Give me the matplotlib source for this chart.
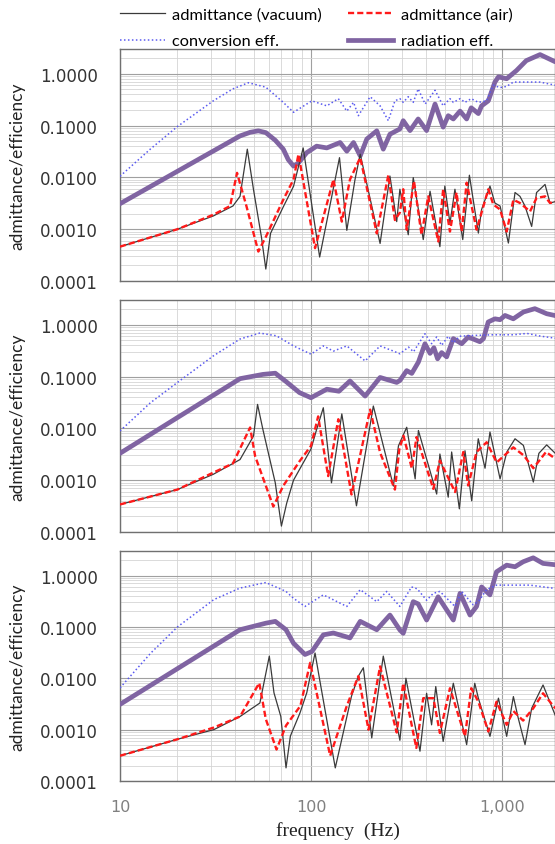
import matplotlib
matplotlib.use('Agg')
import matplotlib.pyplot as plt
import numpy as np
from matplotlib import ticker
from matplotlib.lines import Line2D

# ~~~~~~~~~~~~~~~~~~
# DATA
# ~~~~~~~~~~~~~~~~~~

# panel 1
p1_vac_f = [10, 20, 30.8, 39, 42.5, 46.4, 50, 55, 58, 61.4, 71.6, 81, 91, 111, 141, 154, 170, 181, 230, 259, 281, 292, 323,
            343, 387, 420, 473, 502, 534, 567, 623, 675, 752, 782, 865, 918, 977, 1080, 1170, 1242, 1319, 1430, 1517, 1680,
            1784, 1900]
p1_vac_v = [0.00046, 0.001, 0.0018, 0.0028, 0.0043, 0.035, 0.0058, 0.00071, 0.00017, 0.00083, 0.0027, 0.0067, 0.037, 0.00029,
            0.024, 0.00095, 0.0091, 0.028, 0.00053, 0.0106, 0.0014, 0.0059, 0.00078, 0.0099, 0.00063, 0.0054, 0.00046, 0.0068,
            0.0013, 0.0059, 0.00063, 0.011, 0.00084, 0.0024, 0.0068, 0.0032, 0.0028, 0.00054, 0.0051, 0.0043, 0.0028, 0.00113,
            0.0051, 0.0073, 0.0032, 0.0034]
p1_air_f = [10, 20, 30.8, 37.7, 41, 45.9, 53, 58, 71.6, 81, 86, 105, 131, 145, 160, 181, 221, 254, 275, 292, 304, 317, 346,
            379, 411, 464, 492, 534, 578, 615, 653, 736, 782, 848, 900, 977, 1058, 1147, 1242, 1402, 1517, 1680, 1784, 1900]
p1_air_v = [0.00046, 0.001, 0.0019, 0.0028, 0.0122, 0.0028, 0.00037, 0.00071, 0.0037, 0.0091, 0.028, 0.00043, 0.0091, 0.0014,
            0.0091, 0.024, 0.00083, 0.011, 0.0015, 0.0021, 0.0059, 0.00098, 0.0085, 0.00078, 0.0043, 0.00058, 0.0059, 0.0009,
            0.0051, 0.0009, 0.0079, 0.00098, 0.0021, 0.0059, 0.003, 0.0024, 0.0009, 0.0037, 0.0032, 0.0022, 0.004, 0.0043,
            0.0032, 0.0034]
p1_conv_f = [10, 14.4, 20, 30.8, 39, 47, 58, 71.6, 81, 101, 121, 139, 154, 167, 177, 204, 230, 254, 275, 292, 304, 323, 343,
             364, 396, 446, 492, 534, 556, 603, 640, 690, 752, 830, 900, 977, 1058, 1147, 1582, 1900]
p1_conv_v = [0.0105, 0.035, 0.096, 0.30, 0.51, 0.67, 0.55, 0.28, 0.18, 0.30, 0.24, 0.33, 0.19, 0.28, 0.155, 0.36, 0.24, 0.124,
             0.30, 0.33, 0.28, 0.36, 0.28, 0.51, 0.26, 0.48, 0.24, 0.33, 0.28, 0.33, 0.28, 0.33, 0.28, 0.30, 0.6, 0.54, 0.57,
             0.69, 0.69, 0.6]
p1_rad_f = [10, 42.5, 48, 53, 58, 65, 71.6, 76, 81, 86, 95, 107, 121, 142, 154, 167, 181, 196, 221, 239, 259, 292, 304, 330,
            364, 403, 446, 492, 523, 556, 603, 653, 690, 752, 782, 848, 918, 958, 1058, 1190, 1340, 1582, 1900]
p1_rad_v = [0.0031, 0.063, 0.074, 0.079, 0.073, 0.052, 0.035, 0.022, 0.0165, 0.019, 0.030, 0.040, 0.037, 0.047, 0.032, 0.047,
            0.026, 0.055, 0.079, 0.035, 0.068, 0.086, 0.124, 0.08, 0.134, 0.08, 0.26, 0.093, 0.155, 0.134, 0.19, 0.134, 0.22,
            0.17, 0.24, 0.30, 0.69, 0.87, 0.80, 1.15, 1.79, 2.34, 1.70]

# panel 2
p2_vac_f = [10, 20, 30.8, 42.5, 50, 52.5, 56, 65, 70, 74.6, 81, 100, 107, 116, 128, 145, 173, 212, 270, 287, 317, 351, 365,
            455, 473, 523, 545, 598, 640, 694, 751, 815, 865, 977, 1060, 1170, 1294, 1459, 1560, 1714, 1900]
p2_vac_v = [0.00034, 0.00066, 0.0013, 0.0025, 0.0071, 0.029, 0.0095, 0.00089, 0.00013, 0.00036, 0.001, 0.004, 0.0095, 0.025,
            0.00089, 0.019, 0.00032, 0.027, 0.00077, 0.0046, 0.0105, 0.00106, 0.0091, 0.00054, 0.0032, 0.00047, 0.0035,
            0.00028, 0.0037, 0.0004, 0.0063, 0.0017, 0.0085, 0.00106, 0.0035, 0.0063, 0.0047, 0.00092, 0.0033, 0.0048, 0.0033]
p2_air_f = [10, 20, 30.8, 39, 48, 51, 63.5, 71.6, 87, 100, 109, 123, 139, 163, 204, 230, 275, 290, 305, 337, 357, 437, 473,
            568, 627, 665, 736, 831, 938, 1146, 1300, 1459, 1700, 1900]
p2_air_v = [0.00034, 0.00066, 0.0014, 0.0021, 0.0104, 0.0029, 0.00031, 0.00078, 0.0023, 0.0046, 0.017, 0.0012, 0.015, 0.00053,
            0.023, 0.0034, 0.00066, 0.004, 0.0072, 0.0017, 0.0068, 0.00068, 0.0024, 0.00059, 0.0035, 0.00079, 0.0035, 0.0054,
            0.0022, 0.0043, 0.003, 0.0017, 0.0035, 0.0026]
p2_conv_f = [10, 14.4, 20, 30.8, 42.5, 54, 66, 81, 100, 116, 131, 154, 192, 230, 270, 292, 324, 344, 395, 428, 455, 483, 523,
             557, 600, 700, 900, 1150, 1350, 1600, 1900]
p2_conv_v = [0.0089, 0.031, 0.077, 0.25, 0.53, 0.69, 0.61, 0.39, 0.27, 0.39, 0.31, 0.39, 0.20, 0.39, 0.31, 0.275, 0.37, 0.3,
             0.67, 0.43, 0.58, 0.4, 0.6, 0.45, 0.6, 0.62, 0.64, 0.64, 0.68, 0.6, 0.55]
p2_rad_f = [10, 42.5, 56, 65, 74, 87, 100, 121, 140, 160, 192, 230, 281, 292, 317, 337, 365, 395, 420, 440, 460, 483, 513,
            556, 615, 665, 766, 800, 847, 918, 977, 1037, 1146, 1294, 1486, 1714, 1900]
p2_rad_v = [0.0033, 0.091, 0.11, 0.116, 0.08, 0.049, 0.039, 0.057, 0.052, 0.082, 0.042, 0.096, 0.077, 0.084, 0.13, 0.115,
            0.19, 0.43, 0.28, 0.36, 0.22, 0.29, 0.24, 0.54, 0.43, 0.58, 0.47, 0.54, 1.13, 1.3, 1.25, 1.51, 1.3, 1.76, 2.04,
            1.63, 1.5]

# panel 3
p3_vac_f = [10, 20, 31, 42.5, 54, 60.5, 64, 69.5, 74, 78, 87.5, 95, 105, 111, 134, 163, 177, 188, 208, 239, 292, 314, 372,
            403, 428, 450, 492, 556, 653, 720, 752, 865, 958, 1058, 1147, 1215, 1320, 1430, 1640, 1900]
p3_vac_v = [0.00031, 0.00065, 0.001, 0.0018, 0.0033, 0.027, 0.0052, 0.0018, 0.00018, 0.00075, 0.0021, 0.0052, 0.031, 0.0094,
            0.00018, 0.0045, 0.011, 0.016, 0.00069, 0.027, 0.00062, 0.01, 0.00038, 0.0051, 0.00124, 0.0069, 0.00059, 0.008,
            0.00051, 0.008, 0.0041, 0.00074, 0.0041, 0.00074, 0.0044, 0.0017, 0.00051, 0.0026, 0.0074, 0.0019]
p3_air_f = [10, 20, 31, 42.5, 53.6, 58, 66, 74, 88, 99, 126, 154, 177, 200, 230, 281, 304, 356, 387, 437, 473, 534, 640, 690,
            752, 848, 936, 1058, 1147, 1290, 1457, 1640, 1900]
p3_air_v = [0.00031, 0.00065, 0.0011, 0.0018, 0.0081, 0.0016, 0.00041, 0.0012, 0.0029, 0.02, 0.00031, 0.0029, 0.011, 0.001,
            0.017, 0.00088, 0.008, 0.00044, 0.0041, 0.0041, 0.00086, 0.0064, 0.00074, 0.0064, 0.0035, 0.00092, 0.0035,
            0.00124, 0.0023, 0.0015, 0.0026, 0.0051, 0.0026]
p3_conv_f = [10, 14.5, 20, 31, 42.5, 58, 74, 81, 93, 116, 154, 181, 221, 249, 292, 336, 360, 403, 437, 473, 567, 615, 706,
             752, 830, 936, 1400, 1900]
p3_conv_v = [0.0065, 0.031, 0.10, 0.34, 0.57, 0.73, 0.49, 0.36, 0.25, 0.42, 0.25, 0.53, 0.31, 0.49, 0.25, 0.6, 0.55, 0.33,
             0.45, 0.49, 0.25, 0.49, 0.27, 0.31, 0.53, 0.65, 0.65, 0.56]
p3_rad_f = [10, 42.5, 58, 65, 74, 81, 93, 101, 116, 131, 160, 181, 221, 259, 292, 304, 343, 364, 403, 463, 556, 603, 680,
            736, 782, 865, 936, 1058, 1170, 1290, 1457, 1640, 1900]
p3_rad_v = [0.0031, 0.088, 0.118, 0.128, 0.088, 0.048, 0.029, 0.033, 0.07, 0.076, 0.061, 0.128, 0.088, 0.17, 0.087, 0.075,
            0.31, 0.28, 0.136, 0.385, 0.136, 0.45, 0.17, 0.25, 0.6, 0.42, 1.18, 1.59, 1.48, 1.85, 2.21, 1.72, 1.62]

panels = [
    (p1_vac_f, p1_vac_v, p1_air_f, p1_air_v, p1_conv_f, p1_conv_v, p1_rad_f, p1_rad_v),
    (p2_vac_f, p2_vac_v, p2_air_f, p2_air_v, p2_conv_f, p2_conv_v, p2_rad_f, p2_rad_v),
    (p3_vac_f, p3_vac_v, p3_air_f, p3_air_v, p3_conv_f, p3_conv_v, p3_rad_f, p3_rad_v),
]

yticks = [0.0001, 0.001, 0.01, 0.1, 1.0]
xticks = [10, 100, 1000]
xticklabels = ['10', '100', '1,000']
labels = ['admittance (vacuum)', 'admittance (air)', 'conversion eff.', 'radiation eff.']

# ~~~~~~~~~~
# PLOTTING
# ~~~~~~~~~~

W, H = 555, 845
fig = plt.figure(figsize=(W / 100, H / 100), dpi=100)

boxes = [(50, 282), (301, 533), (552, 782)]  # top / bottom in pixels
left = 120

c_vac = '#3a3a3a'
c_air = '#ff1a1a'
c_conv = '#5a5af0'
c_rad = '#8064a2'
air_dash = (0, (2.6, 1.3))
conv_dot = (0, (1, 1.6))

axes = []
for k, (top, bot) in enumerate(boxes):
    ax = fig.add_axes([left / W, 1 - bot / H, 1 - left / W, (bot - top) / H])
    vf, vv, af, av, cf, cv, rf, rv = panels[k]
    ax.plot(rf, rv, color=c_rad, lw=3.4, solid_capstyle='round', solid_joinstyle='round', zorder=3)
    ax.plot(cf, cv, color=c_conv, lw=1.1, linestyle=conv_dot, zorder=3)
    ax.plot(vf, vv, color=c_vac, lw=0.9, zorder=4)
    ax.plot(af, av, color=c_air, lw=1.7, linestyle=air_dash, zorder=5)

    ax.set_xscale('log')
    ax.set_yscale('log')
    ax.set_xlim(10, 10 ** (1 + (W - left) / 191.0))
    ax.set_ylim(0.0001, 3.0)

    ax.set_yticks(yticks)
    ax.yaxis.set_major_formatter(ticker.FuncFormatter(lambda v, p: '%.4f' % v))
    ax.yaxis.set_minor_locator(ticker.LogLocator(base=10, subs=np.arange(2, 10), numticks=20))
    ax.yaxis.set_minor_formatter(ticker.NullFormatter())
    ax.xaxis.set_minor_locator(ticker.LogLocator(base=10, subs=np.arange(2, 10), numticks=20))
    ax.xaxis.set_minor_formatter(ticker.NullFormatter())
    ax.set_xticks(xticks)
    if k == 2:
        ax.set_xticklabels(xticklabels)
    else:
        ax.set_xticklabels([])

    ax.tick_params(which='both', length=0)
    ax.tick_params(axis='y', pad=16, labelsize=12, labelcolor='#333333')
    ax.tick_params(axis='x', pad=13, labelsize=11.5, labelcolor='#808080')

    ax.grid(which='major', color='#a0a0a0', lw=0.8)
    ax.grid(which='minor', color='#d4d4d4', lw=0.6)
    ax.set_axisbelow(True)
    for s in ax.spines.values():
        s.set_color('#707070')
        s.set_linewidth(1.0)

    ax.set_ylabel('admittance/efficiency', family='Lato', fontsize=12.5, color='#222222')
    ax.yaxis.set_label_coords(-(left - 25) / (W - left), 0.5)
    axes.append(ax)

axes[2].set_xlabel('frequency  (Hz)', family='Liberation Serif', fontsize=14, color='#222222', labelpad=5)

handles = [
    Line2D([], [], color=c_vac, lw=0.9),
    Line2D([], [], color=c_conv, lw=1.1, linestyle=conv_dot),
    Line2D([], [], color=c_air, lw=1.7, linestyle=air_dash),
    Line2D([], [], color=c_rad, lw=3.4),
]
hl = [labels[0], labels[2], labels[1], labels[3]]
fig.legend(handles, hl, loc='upper left', bbox_to_anchor=(120 / W, 1 - 8 / H), ncol=2, frameon=False,
           prop={'family': 'Lato', 'size': 11.8}, handlelength=2.75, handletextpad=0.45, columnspacing=1.6,
           labelspacing=0.76, borderpad=0, borderaxespad=0)

plt.savefig('out.png', dpi=100)
